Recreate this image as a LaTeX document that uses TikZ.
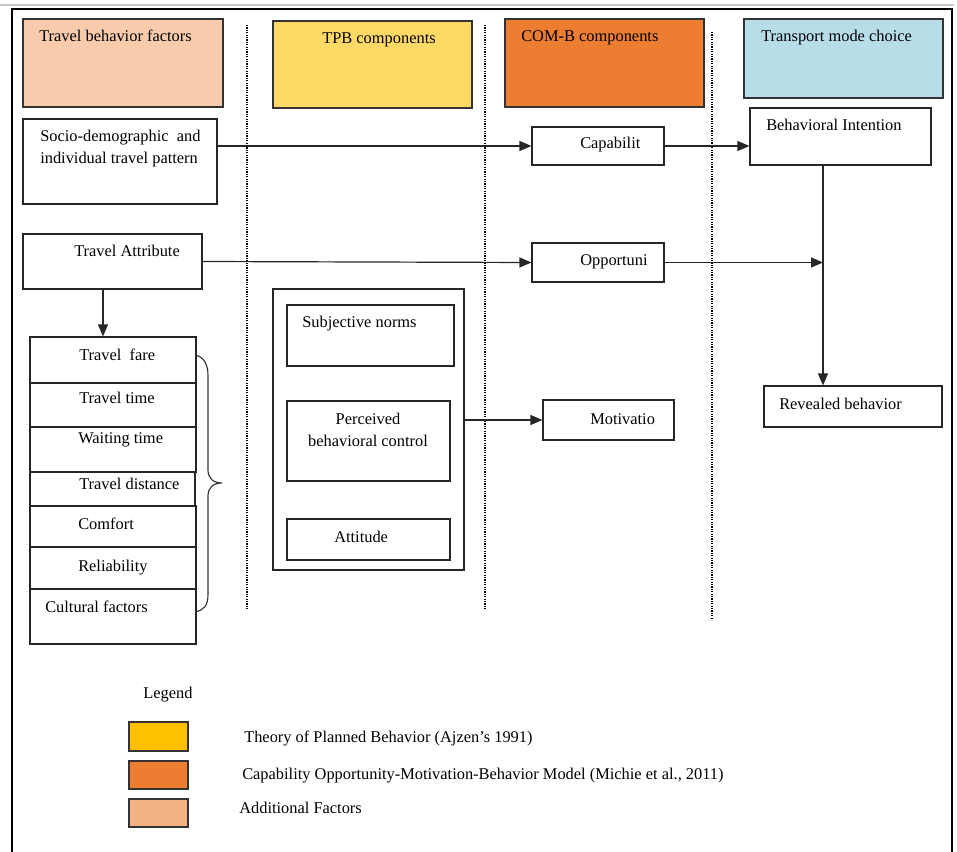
\documentclass[tikz,border=0pt]{standalone}
\usepackage{fontspec}
\setmainfont{Liberation Serif}
\usetikzlibrary{arrows.meta,fit}
\definecolor{hdrpeach}{HTML}{F8CBAD}
\definecolor{tpbyellow}{HTML}{FFD966}
\definecolor{comborange}{HTML}{ED7D31}
\definecolor{tmcblue}{HTML}{B7DEE8}
\definecolor{legyellow}{HTML}{FFC000}
\definecolor{legpeach}{HTML}{F4B183}
\definecolor{framegray}{HTML}{C8C8C8}
\begin{document}
\begin{tikzpicture}[x=0.75pt,y=-0.75pt,
  box/.style={draw=black!85, line width=0.85pt, inner sep=0pt, fill=white},
  hdr/.style={draw=black!80, line width=0.85pt, inner sep=0pt},
  legbox/.style={draw=black!80, line width=1.1pt, inner sep=0pt},
  txt/.style={inner sep=0pt, anchor=base west, font=\fontsize{12.3}{14}\selectfont},
  ctxt/.style={inner sep=0pt, anchor=base, font=\fontsize{12.3}{14}\selectfont},
  arr/.style={draw=black!85, line width=0.9pt, -{Triangle[length=9pt,width=7.5pt]}},
  plain/.style={draw=black!80, line width=0.85pt},
  dotline/.style={line width=2pt, dash pattern=on 0.9pt off 0.9pt},
]
\useasboundingbox (0,0) rectangle (957,852);

% outer frame
\draw[framegray, line width=0.8pt] (0,5) -- (954,5);
\draw[line width=1.5pt] (12,852) -- (12,9) -- (952,9) -- (952,852);

% dotted separators
\draw[dotline] (247,25) -- (247,610);
\draw[dotline] (485,25) -- (485,610);
\draw[dotline] (712,32) -- (712,620);

% headers
\node[hdr, fill=hdrpeach, fit={(23,19)(223,107)}] (h1) {};
\node[hdr, fill=tpbyellow, fit={(273,21)(472,108)}] (h2) {};
\node[hdr, fill=comborange, fit={(505,19)(704,107)}] (h3) {};
\node[hdr, fill=tmcblue, fit={(744,19)(943,98)}] (h4) {};
\node[txt] (t1) at (39,42) {Travel behavior factors};
\node[txt] (t2) at (322,44) {TPB components};
\node[txt] (t3) at (521,42) {COM-B components};
\node[txt] (t4) at (761,42) {Transport mode choice};

% left column
\node[box, fit={(23,119)(217,204)}] (socio) {};
\node[txt] (tsocio1) at (40,142) {Socio-demographic\ \ and};
\node[txt] (tsocio2) at (40,164) {individual travel pattern};
\node[box, fit={(23,234)(202,289)}] (ta) {};
\node[txt] (tta) at (74,257) {Travel Attribute};

\node[box, fit={(30,337)(196,383)}] (fare) {};
\node[box, fit={(30,383)(196,427)}] (ttime) {};
\node[box, fit={(30,427)(196,472)}] (wait) {};
\node[box, fit={(30,472)(195,506)}] (dist) {};
\node[box, fit={(30,506)(196,547)}] (comf) {};
\node[box, fit={(30,547)(196,589)}] (rel) {};
\node[box, fit={(30,589)(196,644)}] (cult) {};
\node[txt] (tfare) at (79,360) {Travel\ \ fare};
\node[txt] (tttime) at (79,403) {Travel time};
\node[txt] (twait) at (78,443) {Waiting time};
\node[txt] (tdist) at (79,489) {Travel distance};
\node[txt] (tcomf) at (78,529) {Comfort};
\node[txt] (trel) at (78,571) {Reliability};
\node[txt] (tcult) at (45,612) {Cultural factors};

% brace
\draw[plain] (195,355) .. controls (204,357) and (208,364) .. (208,376)
  -- (208,470) .. controls (208,478) and (213,483) .. (222,483)
  .. controls (213,483) and (208,488) .. (208,496)
  -- (208,594) .. controls (208,606) and (204,610) .. (195,612);

% TPB column
\node[box, fit={(273,289)(464,570)}] (tpb) {};
\node[box, fit={(287,305)(454,366)}] (sn) {};
\node[box, fit={(287,401)(450,481)}] (pbc) {};
\node[box, fit={(287,519)(450,560)}] (att) {};
\node[txt] (tsn) at (302,328) {Subjective norms};
\node[ctxt] (tpbc1) at (368,424) {Perceived};
\node[ctxt] (tpbc2) at (368,446) {behavioral control};
\node[txt] (tatt) at (334,542) {Attitude};

% COM-B column
\node[box, fit={(532,127)(664,165)}] (cap) {};
\node[txt] (tcap) at (580,149) {Capabilit};
\node[box, fit={(532,243)(664,282)}] (opp) {};
\node[txt] (topp) at (580,266) {Opportuni};
\node[box, fit={(543,400)(674,440)}] (mot) {};
\node[txt] (tmot) at (590,424) {Motivatio};

% transport mode column
\node[box, fit={(750,108)(931,165)}] (bi) {};
\node[txt] (tbi) at (766,131) {Behavioral Intention};
\node[box, fit={(764,386)(942,427)}] (rb) {};
\node[txt] (trb) at (779,409) {Revealed behavior};

% connectors
\coordinate (jx) at (823,262);
\coordinate (dx) at (103,300);
\draw[arr] (socio.east |- cap.west) -- (cap.west);
\draw[arr] (cap.east) -- (cap.east -| bi.west);
\draw[arr] (ta.east) -- (opp.west);
\draw[arr] (opp.east) -- (opp.east -| jx);
\draw[arr] (bi.south -| jx) -- (rb.north -| jx);
\draw[arr] (ta.south -| dx) -- (fare.north -| dx);
\draw[arr] (tpb.east |- mot.west) -- (mot.west);

% legend
\node[txt] (tleg) at (143,698) {Legend};
\node[legbox, fill=legyellow, fit={(129,722)(188,751)}] (l1) {};
\node[legbox, fill=comborange, fit={(129,761)(188,789)}] (l2) {};
\node[legbox, fill=legpeach, fit={(129,799)(188,827)}] (l3) {};
\node[txt] (tl1) at (244,742) {Theory of Planned Behavior (Ajzen’s 1991)};
\node[txt] (tl2) at (242,779) {Capability Opportunity-Motivation-Behavior Model (Michie et al., 2011)};
\node[txt] (tl3) at (239,813) {Additional Factors};
\end{tikzpicture}
\end{document}
